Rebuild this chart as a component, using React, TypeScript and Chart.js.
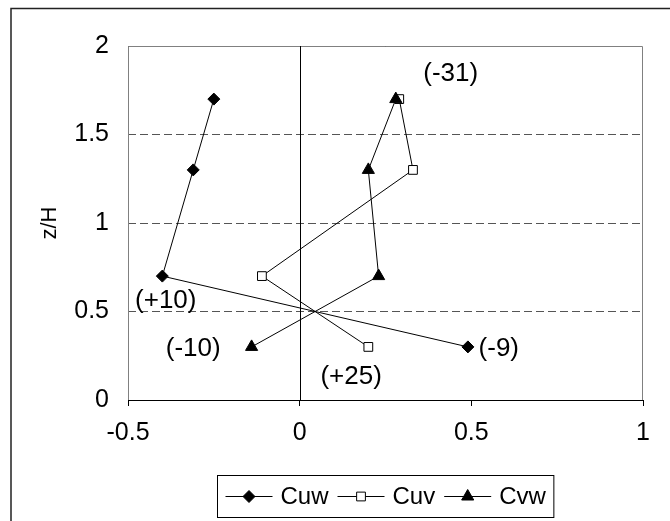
import React, { useEffect, useRef } from 'react';
import { Chart, registerables } from 'chart.js';
import { drawPoint } from 'chart.js/helpers';

Chart.register(...registerables);

// ---- data ----
const heights = [1.7, 1.3, 0.7, 0.3];
const cuwValues = [-0.25, -0.31, -0.4, 0.49];
const cuvValues = [0.29, 0.33, -0.11, 0.2];
const cvwValues = [0.28, 0.2, 0.23, -0.14];
const seriesLabels = ['Cuw', 'Cuv', 'Cvw'];
const xTickValues = [-0.5, 0, 0.5, 1];
const yTickValues = [0, 0.5, 1, 1.5, 2];
const yTitle = 'z/H';
const noteTexts = ['(-31)', '(+10)', '(-10)', '(+25)', '(-9)'];
const noteX = [0.44, -0.39, -0.31, 0.15, 0.58];
const noteY = [1.84, 0.56, 0.29, 0.13, 0.29];

const FONT = '"Liberation Sans", Arial, sans-serif';

const toPoints = (xs: number[]) => xs.map((x, i) => ({ x, y: heights[i] }));

const seriesStyles = [
  { pointStyle: 'rectRot', radius: 6, fill: '#000' },
  { pointStyle: 'rect', radius: 6.2, fill: '#fff' },
  { pointStyle: 'triangle', radius: 7, fill: '#000' },
];

const decorPlugin = {
  id: 'decor',
  beforeDatasetsDraw(chart: any) {
    const { ctx, chartArea: a, scales } = chart;
    ctx.save();
    ctx.strokeStyle = '#808080';
    ctx.lineWidth = 1;
    ctx.beginPath();
    ctx.moveTo(a.left + 0.5, a.bottom);
    ctx.lineTo(a.left + 0.5, a.top + 0.5);
    ctx.lineTo(a.right - 0.5, a.top + 0.5);
    ctx.lineTo(a.right - 0.5, a.bottom);
    ctx.stroke();
    const x0 = Math.round(scales.x.getPixelForValue(0)) + 0.5;
    ctx.strokeStyle = '#000';
    ctx.beginPath();
    ctx.moveTo(x0, a.top);
    ctx.lineTo(x0, a.bottom);
    ctx.stroke();
    ctx.restore();
  },
  afterDraw(chart: any) {
    const { ctx, scales } = chart;
    ctx.save();
    // annotations
    ctx.fillStyle = '#000';
    ctx.font = `26px ${FONT}`;
    ctx.textAlign = 'center';
    ctx.textBaseline = 'middle';
    noteTexts.forEach((t, i) => {
      ctx.fillText(t, scales.x.getPixelForValue(noteX[i]), scales.y.getPixelForValue(noteY[i]));
    });
    // legend
    ctx.font = `24px ${FONT}`;
    const lineLen = 47;
    const gapText = 8;
    const gapItem = 9;
    const pad = 8;
    const widths = seriesLabels.map((l) => ctx.measureText(l).width);
    let total = pad * 2;
    widths.forEach((w, i) => {
      total += lineLen + gapText + w + (i < widths.length - 1 ? gapItem : 0);
    });
    const cx = (chart.chartArea.left + chart.chartArea.right) / 2;
    const boxL = Math.round(cx - total / 2) + 0.5;
    const boxT = 475.5;
    const boxH = 42;
    ctx.strokeStyle = '#000';
    ctx.lineWidth = 1;
    ctx.strokeRect(boxL, boxT, total, boxH);
    const ly = boxT + boxH / 2;
    let x = boxL + pad;
    chart.data.datasets.forEach((ds: any, i: number) => {
      ctx.strokeStyle = '#000';
      ctx.lineWidth = 1;
      ctx.beginPath();
      ctx.moveTo(x, ly);
      ctx.lineTo(x + lineLen, ly);
      ctx.stroke();
      ctx.fillStyle = ds.pointBackgroundColor;
      ctx.strokeStyle = '#000';
      drawPoint(ctx, { pointStyle: ds.pointStyle, radius: ds.pointRadius, rotation: 0, borderWidth: 1 } as any, x + lineLen / 2, ly);
      ctx.fillStyle = '#000';
      ctx.textAlign = 'left';
      ctx.textBaseline = 'middle';
      ctx.fillText(ds.label, x + lineLen + gapText, ly + 1);
      x += lineLen + gapText + widths[i] + gapItem;
    });
    // outer frame
    ctx.strokeStyle = '#222';
    ctx.lineWidth = 1.5;
    ctx.beginPath();
    ctx.moveTo(11, 600);
    ctx.lineTo(11, 8.5);
    ctx.lineTo(700, 8.5);
    ctx.stroke();
    ctx.restore();
  },
};

export default function App() {
  const ref = useRef<HTMLCanvasElement | null>(null);
  useEffect(() => {
    if (!ref.current) return;
    const values = [cuwValues, cuvValues, cvwValues];
    const chart = new Chart(ref.current, {
      type: 'scatter',
      data: {
        datasets: seriesLabels.map((label, i) => ({
          label,
          data: toPoints(values[i]),
          showLine: true,
          borderColor: '#000',
          borderWidth: 1,
          pointStyle: seriesStyles[i].pointStyle as any,
          pointRadius: seriesStyles[i].radius,
          pointBackgroundColor: seriesStyles[i].fill,
          pointBorderColor: '#000',
          pointBorderWidth: 1,
          order: 2 - i,
        })),
      },
      options: {
        responsive: false,
        animation: false,
        events: [],
        layout: { padding: { left: 0, top: 46, right: 27, bottom: 0 } },
        plugins: { legend: { display: false }, tooltip: { enabled: false } },
        scales: {
          x: {
            type: 'linear',
            min: -0.5,
            max: 1,
            afterBuildTicks: (s: any) => {
              s.ticks = xTickValues.map((v) => ({ value: v }));
            },
            afterFit: (s: any) => {
              s.height = 121;
            },
            ticks: {
              color: '#000',
              padding: 12,
              font: { family: FONT, size: 25 },
              callback: (v: any) => String(v),
              maxRotation: 0,
            },
            grid: { drawOnChartArea: false, drawTicks: true, tickLength: 6, color: '#000' },
            border: { display: true, color: '#000', width: 1 },
          },
          y: {
            type: 'linear',
            min: 0,
            max: 2,
            afterBuildTicks: (s: any) => {
              s.ticks = yTickValues.map((v) => ({ value: v }));
            },
            afterFit: (s: any) => {
              s.width = 128;
            },
            ticks: {
              color: '#000',
              padding: 19,
              font: { family: FONT, size: 25 },
              callback: (v: any) => String(v),
            },
            grid: { color: '#555', lineWidth: 1, drawTicks: false },
            border: { display: false, dash: [8, 4] },
            title: {
              display: true,
              text: yTitle,
              color: '#000',
              font: { family: FONT, size: 22 },
              padding: { top: 37, bottom: 0 },
            },
          },
        },
      },
      plugins: [decorPlugin],
    });
    return () => chart.destroy();
  }, []);
  return (
    <>
      <style>{`body{margin:0;overflow:hidden;background:#fff}`}</style>
      <canvas ref={ref} width={670} height={521} style={{ display: 'block' }} />
    </>
  );
}
